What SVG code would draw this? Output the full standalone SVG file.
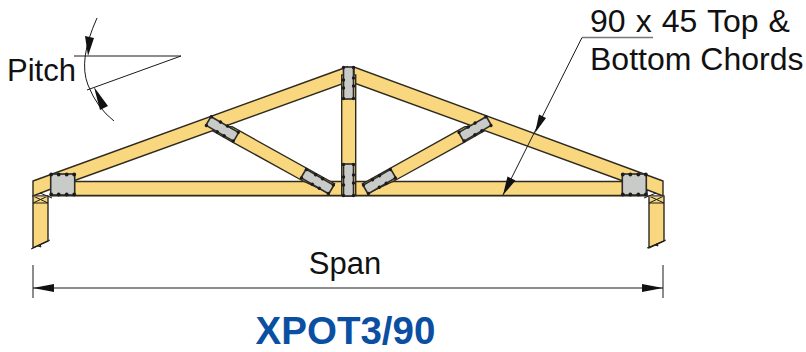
<svg xmlns="http://www.w3.org/2000/svg" width="806" height="352" viewBox="0 0 806 352">
<style>
.t{fill:#f9d77e;stroke:#2e2a20;stroke-width:1.4;stroke-linejoin:miter}
.g{fill:#c9cbc9;stroke:#2b2b2b;stroke-width:1.6}
.d{fill:#1c1c1c}
.l{fill:none;stroke:#1a1a1a;stroke-width:1}
.a{fill:#111}
.x{font-family:"Liberation Sans",Arial,sans-serif;font-size:31px;fill:#111}
</style>
<defs>
<g id="plate">
<rect class="g" x="-16" y="-5" width="32" height="10"/>
<g class="d"><circle cx="-15.500" cy="-5" r="1.700"/><circle cx="-5" cy="-5" r="1.700"/><circle cx="3" cy="-5" r="1.700"/><circle cx="15.500" cy="-5" r="1.700"/><circle cx="-15.500" cy="5" r="1.700"/><circle cx="-3" cy="5" r="1.700"/><circle cx="5" cy="5" r="1.700"/><circle cx="15.500" cy="5" r="1.700"/></g>
</g>
<g id="heel">
<rect class="g" x="-12" y="-10.500" width="24" height="21"/>
<g class="d"><circle cx="-11.500" cy="-10" r="1.900"/><circle cx="-4" cy="-10" r="1.900"/><circle cx="4" cy="-10" r="1.900"/><circle cx="11.500" cy="-10" r="1.900"/><circle cx="-11.500" cy="10" r="1.900"/><circle cx="-4" cy="10" r="1.900"/><circle cx="4" cy="10" r="1.900"/><circle cx="11.500" cy="10" r="1.900"/></g>
</g>
</defs>
<g id="wall-left">
<path class="t" d="M33 196H48V241L33 248Z"/>
<path class="l" d="M33 196L48 203M48 196L33 203M33 203H48M31 249L50 240M38 246L41 247L40 244"/>
</g>
<g id="wall-right">
<path class="t" d="M649 196H664V241L649 248Z"/>
<path class="l" d="M649 196L664 203M664 196L649 203M649 203H664M647 248L666 240M655 245L658 246L657 243"/>
</g>
<g id="bottom-chord">
<path d="M33 196.300H664" fill="none" stroke="#a39c84" stroke-width="1"/>
<path class="t" d="M52 181.500H647V195.500H52Z"/>
</g>
<g id="web-left"><path class="t" d="M232 126.700L334.500 183.700L329 193L303 181L233 142.300L205 126.300Z"/></g>
<g id="web-right"><path class="t" d="M465 126.700L362.500 183.700L368 193L394 181L464 142.300L492 126.300Z"/></g>
<g id="rafter-left"><path class="t" d="M33 181L347 67L342 84L51 189L33 196Z"/><path class="l" d="M40 193L52 198"/></g>
<g id="rafter-right"><path class="t" d="M663 181L354 67L354 83L645 189L663 196Z"/><path class="l" d="M656 193L644 198"/></g>
<g id="king-post"><rect class="t" x="341.700" y="75" width="14" height="120.500"/></g>
<g id="plates">
<use href="#plate" transform="translate(222.300 128.900) rotate(30)"/>
<use href="#plate" transform="translate(317.400 181.500) rotate(30)"/>
<use href="#plate" transform="translate(475 128.900) rotate(-30)"/>
<use href="#plate" transform="translate(379.400 181.500) rotate(-30)"/>
<use href="#plate" transform="translate(348.500 83) rotate(90)"/>
<use href="#plate" transform="translate(348.500 180) rotate(90)"/>
<use href="#heel" transform="translate(62.700 184.500)"/>
<use href="#heel" transform="translate(634.300 184.500)"/>
</g>
<g id="connectors">
<path class="l" d="M74 56H181L87 90M97 18Q78 60 88 85Q97 108 114 121"/>
<path class="a" d="M88 56L85 36L94 38Z"/>
<path class="a" d="M94 87L108 106L100 110Z"/>
<path class="l" style="stroke:#777;stroke-width:1.300" d="M582 37.500H653"/>
<path class="l" d="M582 37.500L503 195"/>
<path class="a" d="M535 133L539 114.500L546 118Z"/>
<path class="a" d="M503 195L507.500 176.500L515.500 180.500Z"/>
<path class="l" d="M33 265V298M663 265V298M33 288H663"/>
<path class="a" d="M33 288L54 284V292Z"/>
<path class="a" d="M663 288L642 284V292Z"/>
</g>
<text class="x" x="7" y="81">Pitch</text>
<text class="x" x="590" y="31.500" style="font-size:32px;word-spacing:1.200px">90 x 45 Top &amp;</text>
<text class="x" x="590" y="69.500" style="font-size:32px">Bottom Chords</text>
<text class="x" x="345" y="274" text-anchor="middle">Span</text>
<text x="345.500" y="343.800" text-anchor="middle" font-family="Liberation Sans, Arial, sans-serif" font-size="38.500" font-weight="700" fill="#0b4fa3">XPOT3/90</text>
</svg>
